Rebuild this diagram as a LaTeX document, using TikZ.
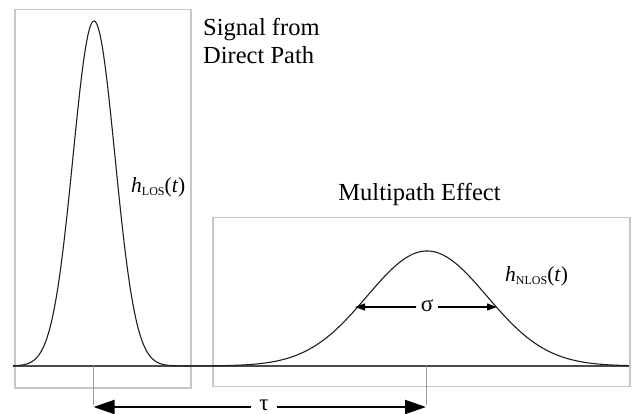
\documentclass[tikz,border=0pt]{standalone}
\usepackage{fontspec}
\setmainfont{Liberation Serif}
\newfontfamily\tnrfont{Liberation Serif}
\usetikzlibrary{arrows.meta}
\begin{document}
\begin{tikzpicture}[x=1pt,y=-1pt,
  framebox/.style={draw=black!22,line width=1.5pt},
  axisline/.style={draw=black!70,line width=1.3pt},
  pulse/.style={draw=black!88,line width=1.1pt},
  tickline/.style={draw=black!40,line width=1pt},
  bigarrow/.style={line width=2pt,-{Triangle[length=21pt,width=14pt]}},
  smallarrow/.style={line width=1.2pt,-{Triangle[length=10pt,width=7pt]}},
  bigtext/.style={font=\tnrfont\fontsize{24.5}{28}\selectfont,inner sep=0pt},
  hlabel/.style={font=\tnrfont\fontsize{21.5}{24}\selectfont,inner sep=0pt},
  greek/.style={font=\tnrfont\fontsize{23}{24}\selectfont,inner ysep=0pt}]
\useasboundingbox (0,0) rectangle (635,414);
% frames
\draw[framebox] (15,9.5) rectangle (191,388);
\draw[framebox] (213,217.5) rectangle (630,386.5);
% baseline
\coordinate (axstart) at (13,366);
\coordinate (axend) at (629,366);
\draw[axisline] (axstart) -- (axend);
% pulses
\draw[pulse] plot[domain=13:629,samples=500,smooth]
  (\x,{366-345*exp(-min(60,((\x-94)/21)^2/2))-115*exp(-min(60,((\x-427)/60)^2/2))});
% tick marks
\coordinate (lostop) at (93.5,366);
\coordinate (losfoot) at (93.5,407);
\coordinate (nlostop) at (426,366);
\coordinate (nlosfoot) at (426,407);
\draw[tickline] (lostop) -- ([yshift=2pt]losfoot);
\draw[tickline] (nlostop) -- ([yshift=2pt]nlosfoot);
% tau arrow
\node[greek,inner xsep=8pt] (tau) at (264,405) {τ};
\draw[bigarrow] (tau.west |- losfoot) -- (losfoot);
\draw[bigarrow] (tau.east |- nlosfoot) -- (nlosfoot);
% sigma arrow
\coordinate (sigL) at (355,307);
\coordinate (sigR) at (497,307);
\node[greek,inner xsep=5pt] (sigma) at (427,306) {σ};
\draw[smallarrow] (sigma.west |- sigL) -- (sigL);
\draw[smallarrow] (sigma.east |- sigR) -- (sigR);
% labels
\node[bigtext,anchor=north west,align=left] (direct) at (203,18) {Signal from\\Direct Path};
\node[bigtext,anchor=base] (multi) at (419.5,201) {Multipath Effect};
\node[hlabel,anchor=base west] (hlos) at (131,193)
  {\textit{h}\raisebox{-2.5pt}{\fontsize{12}{12}\selectfont LOS}(\textit{t})};
\node[hlabel,anchor=base west] (hnlos) at (505,282)
  {\textit{h}\raisebox{-2.5pt}{\fontsize{12}{12}\selectfont NLOS}(\textit{t})};
\end{tikzpicture}
\end{document}
